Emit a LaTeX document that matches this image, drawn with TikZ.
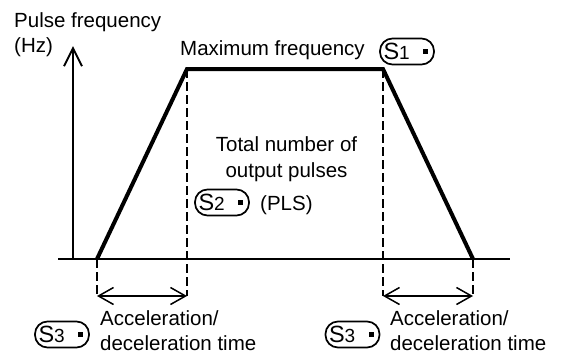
\documentclass[tikz,border=0pt]{standalone}
\usepackage{fontspec}
\setmainfont{Liberation Sans}
\usetikzlibrary{arrows.meta}
\tikzset{
  txt/.style={inner sep=0pt, font=\fontsize{20.5}{25}\selectfont},
  axisline/.style={line width=2pt},
  curve/.style={line width=4pt, line join=miter},
  guide/.style={line width=2pt, dash pattern=on 9pt off 4pt},
  dimarrow/.style={line width=1.5pt, {Straight Barb[length=15pt,width=17pt]}-{Straight Barb[length=15pt,width=17pt]}},
  axisarrow/.style={line width=2pt, -{Straight Barb[length=18pt,width=18pt]}},
  devbox/.style={draw, line width=1.7pt, rounded corners=12.5pt, minimum width=54pt, minimum height=26pt, inner sep=0pt, font=\fontsize{23.5}{24}\selectfont}
}
\newcommand{\devlabel}[1]{\makebox[47pt][l]{S{\fontsize{19}{19}\selectfont #1}\hfill\rule[6pt]{5pt}{5pt}\hspace{2.5pt}}}
\begin{document}
\begin{tikzpicture}[x=1pt,y=-1pt]
\useasboundingbox (0,0) rectangle (566,354);
% axes
\coordinate (o) at (73,259);
\coordinate (xend) at (510,259);
\coordinate (xstart) at (58,259);
\coordinate (ytip) at (73,46);
\draw[axisline] (xstart) -- (xend);
\draw[axisarrow] (o) -- (ytip);
% trapezoid
\coordinate (p0) at (97,259);
\coordinate (p1) at (187,69);
\coordinate (p2) at (383,69);
\coordinate (p3) at (473,259);
\draw[curve] (p0) -- (p1) -- (p2) -- (p3);
% guides
\coordinate (q0) at (97,296);
\coordinate (q1) at (187,296);
\coordinate (q2) at (383,296);
\coordinate (q3) at (473,296);
\draw[guide] (p0) -- (q0);
\draw[guide] (p1) -- (q1);
\draw[guide] (p2) -- (q2);
\draw[guide] (p3) -- (q3);
\draw[dimarrow] (q0) -- (q1);
\draw[dimarrow] (q2) -- (q3);
% texts (multi-line nodes: base = last line)
\node[txt, anchor=base west, align=left] (ylab) at (14,52) {Pulse frequency\\(Hz)};
\node[txt, anchor=base west] (maxf) at (180,55) {Maximum frequency};
\node[devbox] (s1) at (407,51.5) {\devlabel{1}};
\node[txt, anchor=base, align=center, font=\fontsize{20.5}{26.5}\selectfont] (total) at (286.5,177.5) {Total number of\\output pulses};
\node[devbox] (s2) at (222,202.5) {\devlabel{2}};
\node[txt, anchor=base west] (pls) at (260,210) {(PLS)};
\node[devbox] (s3a) at (62,334.5) {\devlabel{3}};
\node[txt, anchor=base west, align=left] (acca) at (100,350) {Acceleration/\\deceleration time};
\node[devbox] (s3b) at (352.5,334.5) {\devlabel{3}};
\node[txt, anchor=base west, align=left] (accb) at (390,350) {Acceleration/\\deceleration time};
\end{tikzpicture}
\end{document}
